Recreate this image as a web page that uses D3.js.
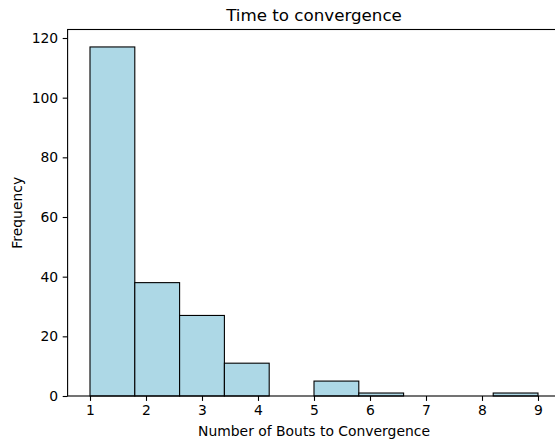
<!DOCTYPE html>
<html>
<head>
<meta charset="utf-8">
<script src="https://cdn.jsdelivr.net/npm/d3@7"></script>
<style>
  html, body { margin: 0; padding: 0; background: #fff; }
  svg { display: block; font-family: "DejaVu Sans", sans-serif; }
</style>
</head>
<body>
<svg id="chart" width="555" height="442"></svg>
<script>
// Histogram of bouts needed to converge: 10 bins spanning 1..9
const binStart = 1;
const binEnd = 9;
const binCount = 10;
const counts = [117, 38, 27, 11, 0, 5, 1, 0, 0, 1];
const xTicks = [1, 2, 3, 4, 5, 6, 7, 8, 9];
const yTicks = [0, 20, 40, 60, 80, 100, 120];

const svg = d3.select("#chart");
const plot = { left: 67.6, right: 560.4, top: 29.5, bottom: 396 };

const binWidth = (binEnd - binStart) / binCount;
const bins = counts.map((c, i) => ({ x0: binStart + i * binWidth, x1: binStart + (i + 1) * binWidth, count: c }));

const xPad = (binEnd - binStart) * 0.05;
const x = d3.scaleLinear().domain([binStart - xPad, binEnd + xPad]).range([plot.left, plot.right]);
const y = d3.scaleLinear().domain([0, d3.max(counts) * 1.05]).range([plot.bottom, plot.top]);

// bars
svg.append("g")
  .selectAll("rect")
  .data(bins)
  .join("rect")
  .attr("x", d => x(d.x0))
  .attr("y", d => y(d.count))
  .attr("width", d => x(d.x1) - x(d.x0))
  .attr("height", d => y(0) - y(d.count))
  .attr("fill", "#add8e6")
  .attr("stroke", "#000")
  .attr("stroke-width", 1.1);

// axes
const xAxis = d3.axisBottom(x).tickValues(xTicks).tickSize(4.9).tickPadding(4.5).tickFormat(d3.format("d"));
const yAxis = d3.axisLeft(y).tickValues(yTicks).tickSize(4.9).tickPadding(4.5).tickFormat(d3.format("d"));

const gx = svg.append("g").attr("transform", `translate(0,${plot.bottom})`).call(xAxis);
const gy = svg.append("g").attr("transform", `translate(${plot.left},0)`).call(yAxis);

[gx, gy].forEach(g => {
  g.select(".domain").remove();
  g.selectAll(".tick line").attr("stroke", "#000").attr("stroke-width", 1.1);
  g.selectAll(".tick text").attr("fill", "#000").style("font-size", "13.9px").style("font-family", "DejaVu Sans");
});

// frame
svg.append("rect")
  .attr("x", plot.left).attr("y", plot.top)
  .attr("width", plot.right - plot.left).attr("height", plot.bottom - plot.top)
  .attr("fill", "none").attr("stroke", "#000").attr("stroke-width", 1.1);

const cx = (plot.left + plot.right) / 2;

svg.append("text")
  .attr("x", cx).attr("y", 21)
  .attr("text-anchor", "middle")
  .style("font-size", "16.7px")
  .text("Time to convergence");

svg.append("text")
  .attr("x", cx).attr("y", 436)
  .attr("text-anchor", "middle")
  .style("font-size", "13.9px")
  .text("Number of Bouts to Convergence");

svg.append("text")
  .attr("transform", `translate(22,${(plot.top + plot.bottom) / 2}) rotate(-90)`)
  .attr("text-anchor", "middle")
  .style("font-size", "13.9px")
  .text("Frequency");
</script>
</body>
</html>
